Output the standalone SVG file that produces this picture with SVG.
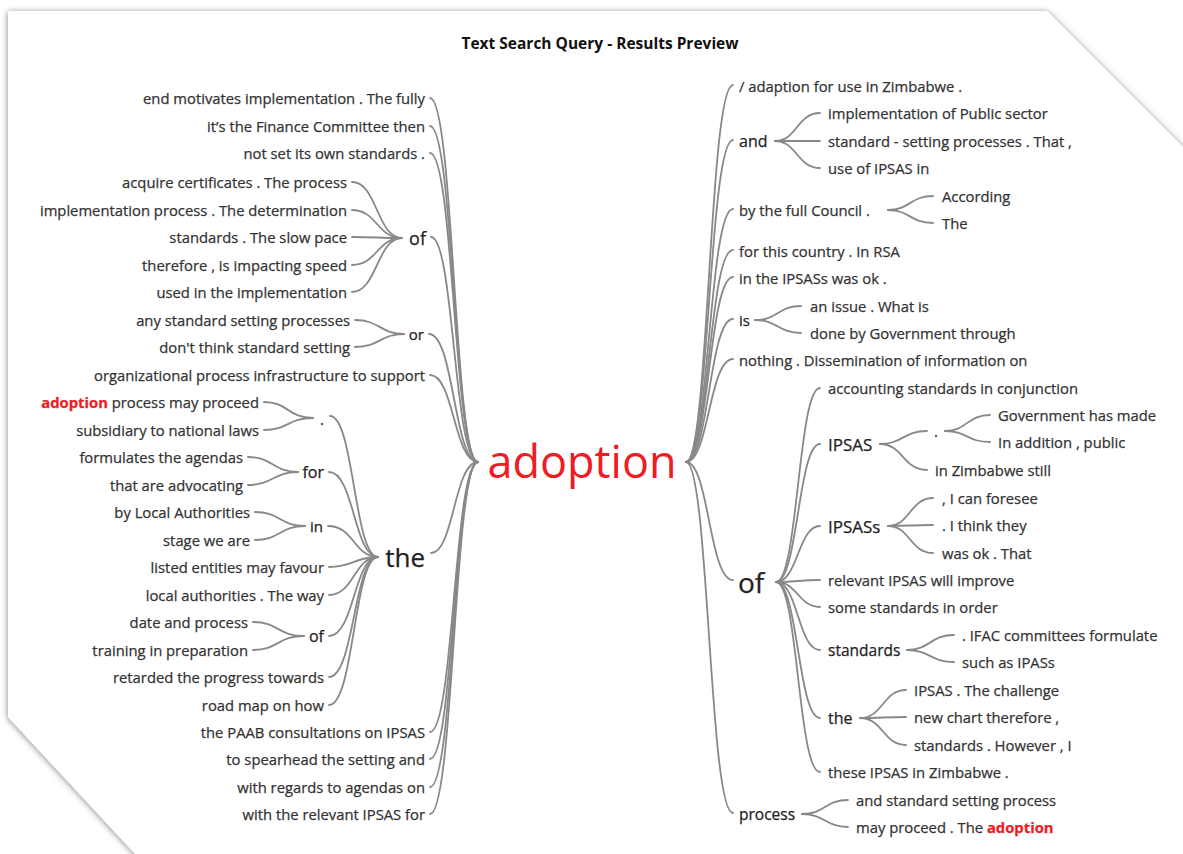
<svg xmlns="http://www.w3.org/2000/svg" width="1183" height="854" viewBox="0 0 1183 854">
  <defs>
    <filter id="pageShadow" x="-5%" y="-5%" width="110%" height="110%">
      <feDropShadow dx="0" dy="1" stdDeviation="3" flood-color="#000" flood-opacity="0.5"/>
    </filter>
    <style>
      text { font-family: "Open Sans", "Liberation Sans", sans-serif; }
      .t { font-size: 14.8px; fill: #333333; stroke: #333333; stroke-width: 0.25px; }
      .n { fill: #222222; stroke: #222222; stroke-width: 0.25px; }
      .hl { fill: #ee1c24; stroke: #ee1c24; font-weight: bold; }
      .title { font-size: 15.5px; font-weight: bold; fill: #111; }
      .c { fill: none; stroke: #888888; stroke-width: 1.8; stroke-linecap: round; }
    </style>
  </defs>

  <!-- sheet with clipped corners -->
  <rect x="0" y="0" width="1183" height="854" fill="#ffffff"/>
  <polygon points="8,11 1047,11 1190,154 1190,870 150,870 8,717" fill="#ffffff" filter="url(#pageShadow)"/>

  <text class="title" x="600" y="49" text-anchor="middle">Text Search Query - Results Preview</text>

  <!-- connectors -->
  <g id="connectors">
    <!-- left: root-level branches -->
    <path class="c" d="M430 98 C454 98 454 462 478 462"/>
    <path class="c" d="M430 126 C454 126 454 462 478 462"/>
    <path class="c" d="M430 153 C454 153 454 462 478 462"/>
    <path class="c" d="M431 237 C454 237 454 462 478 462"/>
    <path class="c" d="M429 334 C454 334 454 462 478 462"/>
    <path class="c" d="M430 375 C454 375 454 462 478 462"/>
    <path class="c" d="M431 553 C454 553 454 462 478 462"/>
    <path class="c" d="M430 732 C454 732 454 462 478 462"/>
    <path class="c" d="M430 759 C454 759 454 462 478 462"/>
    <path class="c" d="M430 787 C454 787 454 462 478 462"/>
    <path class="c" d="M430 814 C454 814 454 462 478 462"/>
    <!-- left: of (upper) -->
    <path class="c" d="M352 182 C377 182 377 238 402 238"/>
    <path class="c" d="M352 210 C377 210 377 238 402 238"/>
    <path class="c" d="M352 237 C377 237 377 238 402 238"/>
    <path class="c" d="M352 265 C377 265 377 238 402 238"/>
    <path class="c" d="M352 292 C377 292 377 238 402 238"/>
    <!-- left: or -->
    <path class="c" d="M355 320 C380 320 380 334 404 334"/>
    <path class="c" d="M355 347 C380 347 380 334 404 334"/>
    <!-- left: the -->
    <path class="c" d="M330 416 C354 416 354 557 378 557"/>
    <path class="c" d="M329 472 C354 472 354 557 378 557"/>
    <path class="c" d="M328 526 C354 526 354 557 378 557"/>
    <path class="c" d="M329 567 C354 567 354 557 378 557"/>
    <path class="c" d="M329 595 C354 595 354 557 378 557"/>
    <path class="c" d="M329 636 C354 636 354 557 378 557"/>
    <path class="c" d="M329 677 C354 677 354 557 378 557"/>
    <path class="c" d="M329 705 C354 705 354 557 378 557"/>
    <!-- left: . -->
    <path class="c" d="M264 402 C288 402 288 418 313 418"/>
    <path class="c" d="M264 430 C288 430 288 418 313 418"/>
    <!-- left: for -->
    <path class="c" d="M248 457 C273 457 273 472 298 472"/>
    <path class="c" d="M248 485 C273 485 273 472 298 472"/>
    <!-- left: in -->
    <path class="c" d="M255 512 C280 512 280 526 305 526"/>
    <path class="c" d="M255 540 C280 540 280 526 305 526"/>
    <!-- left: of (lower) -->
    <path class="c" d="M253 622 C278 622 278 636 304 636"/>
    <path class="c" d="M253 650 C278 650 278 636 304 636"/>

    <!-- right: root-level branches -->
    <path class="c" d="M686 462 C709 462 709 85 733 85"/>
    <path class="c" d="M686 462 C709 462 709 140 733 140"/>
    <path class="c" d="M686 462 C709 462 709 209 733 209"/>
    <path class="c" d="M686 462 C709 462 709 250 733 250"/>
    <path class="c" d="M686 462 C709 462 709 277 733 277"/>
    <path class="c" d="M686 462 C709 462 709 319 733 319"/>
    <path class="c" d="M686 462 C709 462 709 359 733 359"/>
    <path class="c" d="M686 462 C709 462 709 580 733 580"/>
    <path class="c" d="M686 462 C709 462 709 813 733 813"/>
    <!-- right: and -->
    <path class="c" d="M775 141 C797 141 797 113 820 113"/>
    <path class="c" d="M775 141 C797 141 797 141 820 141"/>
    <path class="c" d="M775 141 C797 141 797 168 820 168"/>
    <!-- right: by the full Council . -->
    <path class="c" d="M888 210 C910 210 910 196 933 196"/>
    <path class="c" d="M888 210 C910 210 910 223 933 223"/>
    <!-- right: is -->
    <path class="c" d="M755 320 C778 320 778 306 801 306"/>
    <path class="c" d="M755 320 C778 320 778 333 801 333"/>
    <!-- right: of -->
    <path class="c" d="M776 582 C798 582 798 388 820 388"/>
    <path class="c" d="M776 582 C798 582 798 444 820 444"/>
    <path class="c" d="M776 582 C798 582 798 526 820 526"/>
    <path class="c" d="M776 582 C798 582 798 580 820 580"/>
    <path class="c" d="M776 582 C798 582 798 607 820 607"/>
    <path class="c" d="M776 582 C798 582 798 650 820 650"/>
    <path class="c" d="M776 582 C798 582 798 718 820 718"/>
    <path class="c" d="M776 582 C798 582 798 772 820 772"/>
    <!-- right: IPSAS -->
    <path class="c" d="M880 444 C903 444 903 431 927 431"/>
    <path class="c" d="M880 444 C903 444 903 470 927 470"/>
    <!-- right: . -->
    <path class="c" d="M945 431 C967 431 967 415 990 415"/>
    <path class="c" d="M945 431 C967 431 967 442 990 442"/>
    <!-- right: IPSASs -->
    <path class="c" d="M888 526 C910 526 910 498 933 498"/>
    <path class="c" d="M888 526 C910 526 910 525 933 525"/>
    <path class="c" d="M888 526 C910 526 910 553 933 553"/>
    <!-- right: standards -->
    <path class="c" d="M907 650 C930 650 930 635 954 635"/>
    <path class="c" d="M907 650 C930 650 930 662 954 662"/>
    <!-- right: the -->
    <path class="c" d="M860 718 C883 718 883 690 906 690"/>
    <path class="c" d="M860 718 C883 718 883 717 906 717"/>
    <path class="c" d="M860 718 C883 718 883 745 906 745"/>
    <!-- right: process -->
    <path class="c" d="M802 814 C825 814 825 800 848 800"/>
    <path class="c" d="M802 814 C825 814 825 827 848 827"/>
  </g>

  <!-- central keyword -->
  <g id="node-root">
    <text x="582" y="478" text-anchor="middle" font-size="45" fill="#ee1c24">adoption</text>
  </g>

  <!-- words before the keyword -->
  <g id="left-tree" text-anchor="end">
    <g id="node-l-end"><text class="t" x="425" y="104">end motivates implementation . The fully</text></g>
    <g id="node-l-finance"><text class="t" x="425" y="132">it’s the Finance Committee then</text></g>
    <g id="node-l-notset"><text class="t" x="425" y="159">not set its own standards .</text></g>
    <g id="node-l-of1"><text class="n" x="426" y="245" font-size="18">of</text></g>
    <g id="node-l-of1-a"><text class="t" x="347" y="188">acquire certificates . The process</text></g>
    <g id="node-l-of1-b"><text class="t" x="347" y="216">implementation process . The determination</text></g>
    <g id="node-l-of1-c"><text class="t" x="347" y="243">standards . The slow pace</text></g>
    <g id="node-l-of1-d"><text class="t" x="347" y="271">therefore , is impacting speed</text></g>
    <g id="node-l-of1-e"><text class="t" x="347" y="298">used in the implementation</text></g>
    <g id="node-l-or"><text class="n" x="424" y="340" font-size="15">or</text></g>
    <g id="node-l-or-a"><text class="t" x="350" y="326">any standard setting processes</text></g>
    <g id="node-l-or-b"><text class="t" x="350" y="353">don't think standard setting</text></g>
    <g id="node-l-org"><text class="t" x="425" y="381">organizational process infrastructure to support</text></g>
    <g id="node-l-the"><text class="n" x="425" y="567" font-size="26">the</text></g>
    <g id="node-l-dot"><text class="n" x="324" y="425" font-size="15">.</text></g>
    <g id="node-l-dot-a"><text class="t" x="259" y="408"><tspan class="hl">adoption</tspan> process may proceed</text></g>
    <g id="node-l-dot-b"><text class="t" x="259" y="436">subsidiary to national laws</text></g>
    <g id="node-l-for"><text class="n" x="324" y="478" font-size="16">for</text></g>
    <g id="node-l-for-a"><text class="t" x="243" y="463">formulates the agendas</text></g>
    <g id="node-l-for-b"><text class="t" x="243" y="491">that are advocating</text></g>
    <g id="node-l-in"><text class="n" x="323" y="532" font-size="15">in</text></g>
    <g id="node-l-in-a"><text class="t" x="250" y="518">by Local Authorities</text></g>
    <g id="node-l-in-b"><text class="t" x="250" y="546">stage we are</text></g>
    <g id="node-l-listed"><text class="t" x="324" y="573">listed entities may favour</text></g>
    <g id="node-l-local"><text class="t" x="324" y="601">local authorities . The way</text></g>
    <g id="node-l-of2"><text class="n" x="324" y="642" font-size="16">of</text></g>
    <g id="node-l-of2-a"><text class="t" x="248" y="628">date and process</text></g>
    <g id="node-l-of2-b"><text class="t" x="248" y="656">training in preparation</text></g>
    <g id="node-l-retarded"><text class="t" x="324" y="683">retarded the progress towards</text></g>
    <g id="node-l-roadmap"><text class="t" x="324" y="711">road map on how</text></g>
    <g id="node-l-paab"><text class="t" x="425" y="738">the PAAB consultations on IPSAS</text></g>
    <g id="node-l-spearhead"><text class="t" x="425" y="765">to spearhead the setting and</text></g>
    <g id="node-l-regards"><text class="t" x="425" y="793">with regards to agendas on</text></g>
    <g id="node-l-relevant"><text class="t" x="425" y="820">with the relevant IPSAS for</text></g>
  </g>

  <!-- words after the keyword -->
  <g id="right-tree">
    <g id="node-r-adaption"><text class="t" x="739" y="92">/ adaption for use in Zimbabwe .</text></g>
    <g id="node-r-and"><text class="n" x="739" y="147" font-size="16">and</text></g>
    <g id="node-r-and-a"><text class="t" x="828" y="119">implementation of Public sector</text></g>
    <g id="node-r-and-b"><text class="t" x="828" y="147">standard - setting processes . That ,</text></g>
    <g id="node-r-and-c"><text class="t" x="828" y="174">use of IPSAS in</text></g>
    <g id="node-r-council"><text class="t" x="739" y="216">by the full Council .</text></g>
    <g id="node-r-council-a"><text class="t" x="942" y="202">According</text></g>
    <g id="node-r-council-b"><text class="t" x="942" y="229">The</text></g>
    <g id="node-r-country"><text class="t" x="739" y="257">for this country . In RSA</text></g>
    <g id="node-r-ipsass-ok"><text class="t" x="739" y="284">in the IPSASs was ok .</text></g>
    <g id="node-r-is"><text class="n" x="739" y="326" font-size="15">is</text></g>
    <g id="node-r-is-a"><text class="t" x="810" y="312">an issue . What is</text></g>
    <g id="node-r-is-b"><text class="t" x="810" y="339">done by Government through</text></g>
    <g id="node-r-nothing"><text class="t" x="739" y="366">nothing . Dissemination of information on</text></g>
    <g id="node-r-of"><text class="n" x="738" y="593" font-size="28">of</text></g>
    <g id="node-r-of-accounting"><text class="t" x="828" y="394">accounting standards in conjunction</text></g>
    <g id="node-r-ipsas"><text class="n" x="828" y="451" font-size="17">IPSAS</text></g>
    <g id="node-r-ipsas-dot"><text class="n" x="934" y="437" font-size="15">.</text></g>
    <g id="node-r-ipsas-dot-a"><text class="t" x="998" y="421">Government has made</text></g>
    <g id="node-r-ipsas-dot-b"><text class="t" x="998" y="448">In addition , public</text></g>
    <g id="node-r-ipsas-zim"><text class="t" x="935" y="476">in Zimbabwe still</text></g>
    <g id="node-r-ipsass"><text class="n" x="828" y="533" font-size="17">IPSASs</text></g>
    <g id="node-r-ipsass-a"><text class="t" x="942" y="504">, I can foresee</text></g>
    <g id="node-r-ipsass-b"><text class="t" x="942" y="531">. I think they</text></g>
    <g id="node-r-ipsass-c"><text class="t" x="942" y="559">was ok . That</text></g>
    <g id="node-r-of-relevant"><text class="t" x="828" y="586">relevant IPSAS will improve</text></g>
    <g id="node-r-of-some"><text class="t" x="828" y="613">some standards in order</text></g>
    <g id="node-r-standards"><text class="n" x="828" y="656" font-size="15.5">standards</text></g>
    <g id="node-r-standards-a"><text class="t" x="962" y="641">. IFAC committees formulate</text></g>
    <g id="node-r-standards-b"><text class="t" x="962" y="668">such as IPASs</text></g>
    <g id="node-r-the"><text class="n" x="828" y="724" font-size="16">the</text></g>
    <g id="node-r-the-a"><text class="t" x="914" y="696">IPSAS . The challenge</text></g>
    <g id="node-r-the-b"><text class="t" x="914" y="723">new chart therefore ,</text></g>
    <g id="node-r-the-c"><text class="t" x="914" y="751">standards . However , I</text></g>
    <g id="node-r-of-these"><text class="t" x="828" y="778">these IPSAS in Zimbabwe .</text></g>
    <g id="node-r-process"><text class="n" x="739" y="820" font-size="15.5">process</text></g>
    <g id="node-r-process-a"><text class="t" x="856" y="806">and standard setting process</text></g>
    <g id="node-r-process-b"><text class="t" x="856" y="833">may proceed . The <tspan class="hl">adoption</tspan></text></g>
  </g>
</svg>
